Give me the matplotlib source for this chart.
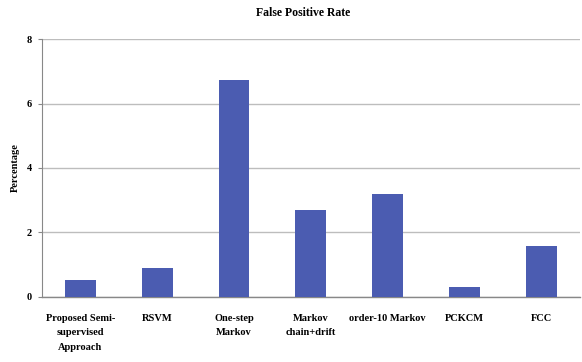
import numpy as np
import matplotlib.pyplot as plt

# false positive rate per method (%)
methods = ["Proposed Semi-\nsupervised\nApproach", "RSVM", "One-step\nMarkov",
           "Markov\nchain+drift", "order-10 Markov", "PCKCM", "FCC"]
fp_rate = [0.51, 0.88, 6.72, 2.68, 3.18, 0.32, 1.57]
y_ticks = [0, 2, 4, 6, 8]

plt.rcParams['font.family'] = ['Liberation Serif', 'DejaVu Serif']
plt.rcParams['font.weight'] = 'bold'

fig = plt.figure(figsize=(5.82, 3.62), dpi=100)
ax = fig.add_axes([0.072, 0.18, 0.924, 0.712])

x = np.arange(len(methods))
ax.bar(x, fp_rate, width=0.4, color='#4b5cb1', zorder=3)

ax.set_xlim(-0.5, len(methods) - 0.5)
ax.set_ylim(0, 8)
ax.set_yticks(y_ticks)
ax.set_yticklabels([str(t) for t in y_ticks], fontsize=7.5, fontweight='bold')
ax.set_xticks(x)
ax.set_xticklabels(methods, fontsize=7.5, fontweight='bold', linespacing=1.85)
ax.tick_params(axis='x', length=0, pad=12)
ax.tick_params(axis='y', length=3, width=0.8, color='#888888', pad=4)

ax.grid(axis='y', color='#bdbdbd', linewidth=1.0, zorder=0)
for side in ['top', 'right']:
    ax.spines[side].set_visible(False)
ax.spines['left'].set_color('#888888')
ax.spines['bottom'].set_color('#888888')
ax.spines['bottom'].set_linewidth(1.0)

ax.set_ylabel("Percentage", fontsize=7.5, fontweight='bold', labelpad=5)
fig.text(0.52, 0.965, "False Positive Rate", ha='center', va='center',
         fontsize=8.5, fontweight='bold')

fig.savefig("out.png", dpi=100)
